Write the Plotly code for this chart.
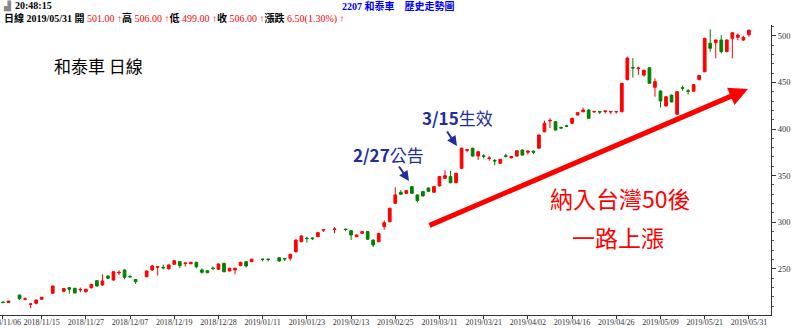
import pandas as pd
import plotly.graph_objects as go

# ---- trading calendar (categories) ----
HOLIDAYS = ["2018-12-31", "2019-01-01", "2019-01-31", "2019-02-01", "2019-02-04",
            "2019-02-05", "2019-02-06", "2019-02-07", "2019-02-08", "2019-02-28",
            "2019-03-01", "2019-04-04", "2019-04-05", "2019-05-01"]
EXTRA_DAYS = ["2018-12-22"]
days = pd.bdate_range("2018-11-06", "2019-05-31")
days = days.union(pd.to_datetime(EXTRA_DAYS)).difference(pd.to_datetime(HOLIDAYS))
dates = [d.strftime("%Y/%m/%d") for d in days]

N = None
opens = [214.5, 214, N, 222, 217.5, 212, 213.2, 217.5, N, 223.9,
         N, 226, 229.9, 229.2, 227.5, 225.6, 229.9, 237.4, 232.8, 242.4,
         238.1, 245.7, 248.9, 242, 238.7, N, 241.7, 248.9, 251.7, 251.7,
         250, 255, 257.8, 255.7, 255.6, 257.1, 248.9, 248.1, 251, 249.6,
         256, 247.8, 248.9, 253.5, 257.8, 257.8, N, 260.6, 260.6, N,
         262, 261.1, 261.4, 268.5, 279.2, 283, 283.1, 284.6, 291.6, N,
         292.2, N, 292.8, 291, 284.6, 288.2, 290, 281, 279.2, 295.3,
         300.6, 320.3, 332.2, 331, 338.2, 329.3, 332.9, 336.8, 332.2, 339,
         347.1, 349, 342.4, 357.8, 377, 379.4, 371, 371.3, 368.3, 366.3,
         363.2, 371.3, 369, 371, 377.5, 375, 376.2, 379.4, 397.1, 408.6,
         407.8, 401.7, 403.5, 406.1, 415, 418.5, 420.4, 418.2, 418.8, 418.7,
         418.3, 418.3, 418.5, 453, 466, 464.7, 457.8, 465.7, 444.7, 440.7,
         424.7, 436.4, 415.8, 444.3, 441, 440.5, 453, 461.4, 491.9, 492.5,
         495.4, 482.9, 497.2, 498.3, 495.4, 501]
highs = [215, 216, N, 222.5, 219.5, 212.8, 217, 220, N, 232,
         N, 229.5, 230.5, 229.8, 230, 228.5, 234, 238, 244.3, 243,
         247.5, 248.5, 249.5, 243, 239, N, 248.3, 254.5, 252.8, 254.8,
         254.8, 259.3, 258.3, 256.8, 257.6, 257.6, 250.5, 248.5, 252.5, 255.8,
         256.5, 251.2, 251.2, 257.6, 258.3, 261, N, 260.8, 260.8, N,
         262.5, 261.3, 266.2, 281.5, 286, 284.6, 284, 289.4, 292.2, N,
         294.7, N, 293, 291.5, 286.8, 290.4, 290.5, 281.5, 288.5, 301.9,
         315.5, 337.5, 334.5, 334.3, 338.7, 329.8, 333.4, 337.3, 338.7, 349.5,
         355.6, 355, 353, 380, 378, 380, 376.5, 373, 371, 368,
         368, 373.5, 371, 377.2, 378, 377.5, 377, 394, 408.9, 411.5,
         408.3, 402.5, 404.5, 412, 418, 423, 421, 419.5, 419.5, 419.8,
         419, 419.2, 449.5, 477.5, 476, 466.8, 463.5, 466.2, 454.3, 441.2,
         435, 436.9, 440.5, 446.5, 443, 448, 458, 497.7, 506.9, 496,
         500.7, 496, 503.7, 502.5, 500, 506]
lows = [213, 213.5, N, 216.7, 216.5, 207.8, 212, 217, N, 223,
        N, 225, 223.5, 224, 225, 224.5, 229, 231, 232, 239,
        237.5, 243.5, 238.8, 240.5, 234, N, 241, 248, 242.8, 249.5,
        249.5, 254.5, 250.7, 252.5, 255, 250.6, 245, 245.5, 248.7, 249,
        246.5, 247.3, 244.3, 253, 251.5, 257.3, N, 258, 258, N,
        257.5, 258.5, 259, 267.5, 278.5, 278.2, 281, 284, 289.5, N,
        288.2, N, 290.5, 281, 284, 287.8, 281.3, 273.5, 278.7, 292,
        300, 319.5, 329.5, 330.5, 330.5, 321.3, 327.7, 332.5, 331.5, 338.5,
        346.5, 341.8, 342, 357, 375, 370.5, 366.8, 368.5, 366, 361,
        362.5, 369.5, 368.5, 370.5, 371.5, 372.5, 373, 379, 396.5, 401,
        398.4, 400, 402, 405.5, 414.5, 418, 411, 417.5, 416, 416.5,
        416, 416.5, 418, 452, 455, 458, 456, 448.5, 434.6, 423,
        424, 428.5, 415.3, 441, 437, 440, 452, 461, 482.9, 475.8,
        481.1, 482.4, 475.8, 495, 494.5, 499]
closes = [214, 215.5, N, 218, 218, 212.5, 216.7, 219.6, N, 231.7,
          N, 228.9, 228.2, 224.2, 228, 228.2, 233.4, 231.7, 237.1, 240,
          247, 246.3, 241, 241.5, 236.3, N, 247.8, 253.2, 252.3, 251.2,
          254.3, 258.8, 253.5, 256.3, 257.1, 252.4, 246.4, 246, 250.4, 255.3,
          247, 250.7, 250.7, 257.1, 253.2, 260.4, N, 260.2, 260.2, N,
          258.5, 260.7, 265.7, 281, 285.3, 282.6, 282.5, 288.9, 292, N,
          292.8, N, 292.2, 286.4, 286.4, 290, 281.8, 275.7, 288, 299.6,
          315, 329.3, 330, 333.9, 331, 323.2, 328.2, 333.2, 338.2, 349,
          350, 342.4, 352.5, 379.4, 377.8, 371, 375.7, 370.7, 368.9, 365.7,
          367.5, 370.7, 370.5, 376.7, 372, 376.3, 375.2, 393.6, 406.1, 409.2,
          398.9, 401.1, 402.9, 411.5, 417.5, 420.4, 411.5, 418.8, 418.2, 419.3,
          418.7, 418.7, 449, 476, 465.4, 465.3, 463, 449, 450.7, 430,
          434.6, 429, 440, 443.7, 440.4, 447.5, 457.5, 497.2, 486.5, 495.4,
          482.9, 495.4, 503.2, 500.7, 498.3, 506]

tick_dates = ["2018/11/06", "2018/11/15", "2018/11/27", "2018/12/07", "2018/12/19",
              "2018/12/28", "2019/01/11", "2019/01/23", "2019/02/13", "2019/02/25",
              "2019/03/11", "2019/03/21", "2019/04/02", "2019/04/16", "2019/04/26",
              "2019/05/09", "2019/05/21", "2019/05/31"]
y_ticks = [250, 300, 350, 400, 450, 500]

RED = "#ff0000"
GREEN = "#008000"
BLUE = "#1f2d9e"
CJK = "Noto Sans CJK TC"
SERIF = "Liberation Serif"

fig = go.Figure(go.Candlestick(
    x=dates, open=opens, high=highs, low=lows, close=closes,
    increasing=dict(line=dict(color=RED, width=1), fillcolor=RED),
    decreasing=dict(line=dict(color=GREEN, width=1), fillcolor=GREEN),
    whiskerwidth=0, hoverinfo="skip", showlegend=False,
))

W, H, ML, MR, MT, MB = 800, 329, 0, 29, 25, 14
PW, PH = W - ML - MR, H - MT - MB


def px(x):
    return (x - ML) / PW


def py(y):
    return (H - MB - y) / PH


annotations = []


def text(x, y, s, size, color="black", family=CJK, anchor="center"):
    annotations.append(dict(x=px(x), y=py(y), xref="paper", yref="paper", text=s,
                            showarrow=False, xanchor=anchor, yanchor="middle",
                            font=dict(size=size, color=color, family=family)))


def arrow(x0, y0, x1, y1, color, width, size):
    annotations.append(dict(x=px(x1), y=py(y1), xref="paper", yref="paper", text="",
                            showarrow=True, ax=x0 - x1, ay=y0 - y1, axref="pixel",
                            ayref="pixel", arrowhead=2, arrowsize=size,
                            arrowwidth=width, arrowcolor=color, standoff=0))


# header
text(13, 6, "<b>20:48:15</b>", 10, "black", SERIF, "left")
text(398, 6, "<b>2207 和泰車　歷史走勢圖</b>", 10, "#0000ff", SERIF + ", " + CJK)
hdr = ("<b>日線 2019/05/31 開</b> <span style='color:#ff0000'>501.00 ↑</span>"
       "<b>高</b> <span style='color:#ff0000'>506.00 ↑</span>"
       "<b>低</b> <span style='color:#ff0000'>499.00 ↑</span>"
       "<b>收</b> <span style='color:#ff0000'>506.00 ↑</span>"
       "<b>漲跌</b> <span style='color:#ff0000'>6.50(1.30%) ↑</span>")
text(2, 18, hdr, 10, "black", SERIF + ", " + CJK, "left")

# titles and notes
text(99, 65, "和泰車 日線", 17, "black")
text(388, 154, "<b>2/27</b>公告", 17, BLUE)
text(457, 118, "<b>3/15</b>生效", 17, BLUE)
arrow(398, 165, 409, 181, BLUE, 2, 1)
arrow(446, 130, 457, 146, BLUE, 2, 1)
text(620, 198, "納入台灣50後", 23, RED)
text(618, 237, "一路上漲", 23, RED)
arrow(428, 226, 748, 89, RED, 5, 0.75)

# small window icon
annotations.append(dict(x=px(1), y=py(6), xref="paper", yref="paper", text="▟",
                        showarrow=False, xanchor="left", yanchor="middle",
                        font=dict(size=9, color="#888", family="DejaVu Sans")))

fig.update_layout(
    width=W, height=H,
    margin=dict(l=ML, r=MR, t=MT, b=MB, pad=0),
    paper_bgcolor="white", plot_bgcolor="white",
    annotations=annotations,
    xaxis=dict(type="category", range=[-0.54, 139.0], rangeslider=dict(visible=False),
               tickmode="array", tickvals=tick_dates, ticktext=tick_dates,
               ticks="outside", ticklen=3, tickcolor="#333", showgrid=False,
               showline=True, linecolor="#333", linewidth=1, zeroline=False,
               tickangle=0, ticklabelstandoff=-4,
               tickfont=dict(family=SERIF, size=8, color="#333"), automargin=False),
    yaxis=dict(side="right", range=[200.6, 511.5], tickvals=y_ticks,
               ticks="outside", ticklen=4, tickcolor="#333", showgrid=False,
               showline=True, linecolor="#333", linewidth=1, zeroline=False,
               minor=dict(dtick=10, ticks="outside", ticklen=2, tickcolor="#555"),
               tickfont=dict(family=SERIF, size=8.5, color="#333"), automargin=False),
)

fig.write_html("out.html")
